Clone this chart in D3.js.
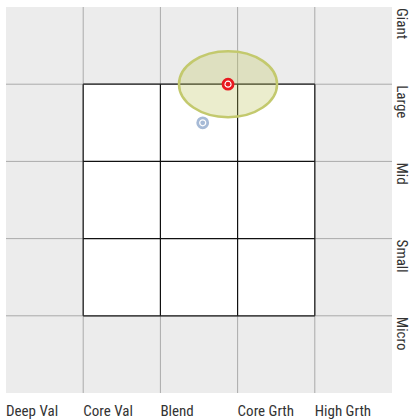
<!DOCTYPE html>
<html>
<head>
<meta charset="utf-8">
<script src="https://cdn.jsdelivr.net/npm/d3@7"></script>
<style>
  body { margin: 0; background: #fff; }
  text { font-family: "Roboto Condensed", "Liberation Sans Narrow", "Roboto", sans-serif; fill: #333; }
</style>
</head>
<body>
<svg id="chart" width="410" height="420"></svg>
<script>
// style box categories (left to right) and size categories (top to bottom)
const styles = ["Deep Val", "Core Val", "Blend", "Core Grth", "High Grth"];
const sizes = ["Giant", "Large", "Mid", "Small", "Micro"];

// points in box units (x from left edge, y from bottom edge)
const pointNames = ["fund", "benchmark"];
const pointX = [2.876, 2.548];
const pointY = [4.0, 3.5];
// ownership zone ellipse around the fund
const zoneCenter = [2.876, 4.0];
const zoneRadius = [0.635, 0.427];

const svg = d3.select("#chart");
const x = d3.scaleLinear().domain([0, 5]).range([6, 392]);
const y = d3.scaleLinear().domain([0, 5]).range([393, 7]);

const g = svg.append("g");

// outer gray background
g.append("rect")
  .attr("x", x(0)).attr("y", y(5))
  .attr("width", x(5) - x(0)).attr("height", y(0) - y(5))
  .attr("fill", "#ececec");

// gray grid lines over the full box
const ticks = d3.range(1, 5);
g.selectAll("line.vg").data(ticks).enter().append("line")
  .attr("x1", d => x(d)).attr("x2", d => x(d))
  .attr("y1", y(5)).attr("y2", y(0))
  .attr("stroke", "#aaa").attr("stroke-width", 1);
g.selectAll("line.hg").data(ticks).enter().append("line")
  .attr("y1", d => y(d)).attr("y2", d => y(d))
  .attr("x1", x(0)).attr("x2", x(5))
  .attr("stroke", "#aaa").attr("stroke-width", 1);

// inner 3x3 white box
g.append("rect")
  .attr("x", x(1)).attr("y", y(4))
  .attr("width", x(4) - x(1)).attr("height", y(1) - y(4))
  .attr("fill", "#fff");
g.selectAll("line.vi").data(ticks).enter().append("line")
  .attr("x1", d => x(d)).attr("x2", d => x(d))
  .attr("y1", y(4)).attr("y2", y(1))
  .attr("stroke", "#111").attr("stroke-width", 1.2);
g.selectAll("line.hi").data(ticks).enter().append("line")
  .attr("y1", d => y(d)).attr("y2", d => y(d))
  .attr("x1", x(1)).attr("x2", x(4))
  .attr("stroke", "#111").attr("stroke-width", 1.2);

// ownership zone
g.append("ellipse")
  .attr("cx", x(zoneCenter[0])).attr("cy", y(zoneCenter[1]))
  .attr("rx", x(zoneRadius[0]) - x(0)).attr("ry", y(0) - y(zoneRadius[1]))
  .attr("fill", "rgba(190,196,90,0.3)")
  .attr("stroke", "#c3c96d").attr("stroke-width", 2.5);

// points (target markers)
const colors = ["#e8191f", "#a6bad6"];
const pts = g.selectAll("g.pt").data(pointNames).enter().append("g")
  .attr("transform", (d, i) => `translate(${x(pointX[i])},${y(pointY[i])})`);
pts.append("circle").attr("r", 5).attr("fill", "#fff")
  .attr("stroke", (d, i) => colors[i]).attr("stroke-width", 2.8);
pts.append("circle").attr("r", 2.4).attr("fill", (d, i) => colors[i]);

// x labels, left aligned in each column
g.selectAll("text.xl").data(styles).enter().append("text")
  .attr("x", (d, i) => x(i)).attr("y", 416)
  .attr("font-size", 15)
  .text(d => d);

// right labels rotated, starting at top of each row
g.selectAll("text.yl").data(sizes).enter().append("text")
  .attr("transform", (d, i) => `translate(397,${y(5 - i) + 1}) rotate(90)`)
  .attr("font-size", 15)
  .text(d => d);
</script>
</body>
</html>
